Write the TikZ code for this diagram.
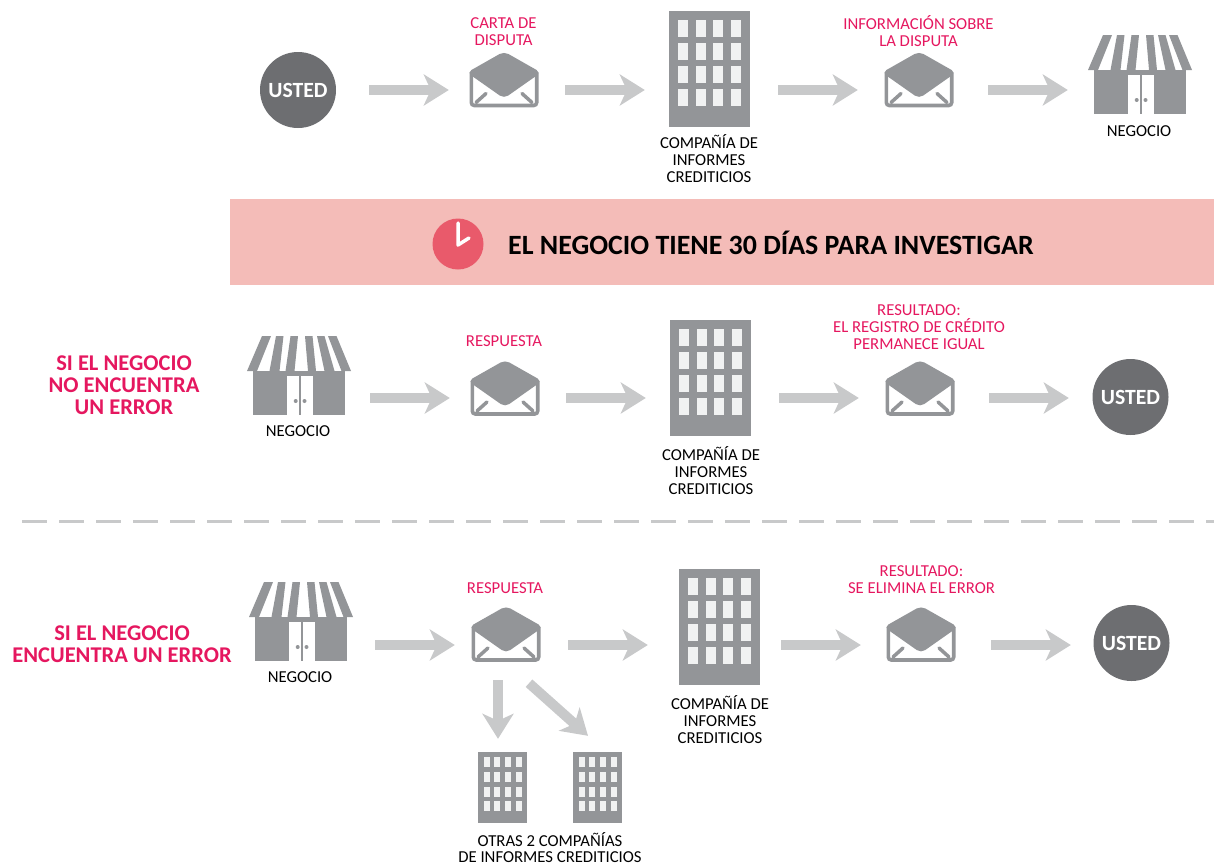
\documentclass[tikz,border=0pt]{standalone}
\usepackage{fontspec}
\setmainfont{Carlito}
\usetikzlibrary{arrows.meta}
\definecolor{pinktx}{HTML}{E5175F}
\definecolor{iconGray}{HTML}{939598}
\definecolor{darkGray}{HTML}{6D6E71}
\definecolor{arrowGray}{HTML}{C8C9CA}
\definecolor{bandPink}{HTML}{F4BCB8}
\definecolor{clockRed}{HTML}{E95A6B}
\definecolor{winWhite}{HTML}{F1F2F2}
\newcommand{\ustedtext}{\raisebox{-7.9pt}[0pt][0pt]{USTED}}
\tikzset{
  x=1pt,y=-1pt,
  fat/.style={draw=arrowGray,line width=10pt,-{Stealth[length=25pt,width=31pt,inset=7pt]}},
  usted/.style={circle,fill=darkGray,minimum size=76pt,inner sep=0pt,text=white,font=\fontsize{21.7}{24}\selectfont\bfseries},
  pinklab/.style={text=pinktx,align=center,font=\fontsize{16.7}{17}\selectfont,inner sep=0pt},
  blacklab/.style={text=black,align=center,font=\fontsize{16.7}{17}\selectfont,inner sep=0pt},
  headlab/.style={text=pinktx,align=center,font=\fontsize{22.5}{22}\selectfont\bfseries,inner sep=0pt},
  envbox/.style={minimum width=69pt,minimum height=54pt,inner sep=0pt},
  bldbox/.style={minimum width=81pt,minimum height=116pt,inner sep=0pt,fill=iconGray},
  smallbox/.style={minimum width=49pt,minimum height=71pt,inner sep=0pt,fill=iconGray},
  shopbox/.style={minimum width=104pt,minimum height=79pt,inner sep=0pt},
  envelope/.pic={
    \draw[iconGray,line width=3.6pt,rounded corners=3pt] (-32.7,-8) -- (-32.7,25) -- (32.7,25) -- (32.7,-8);
    \fill[iconGray,rounded corners=5pt] (0,-29) -- (-37,-8) -- (0,18) -- (37,-8) -- cycle;
    \draw[iconGray,line width=3.5pt,line cap=round] (-28,22) -- (-18,13) (28,22) -- (18,13);
  },
  windows/.pic={
    \foreach \r in {-49,-26,-3,20}\foreach \c in {-31.5,-13.5,3.5,21.5}
      \fill[winWhite] (\c,\r) rectangle ++(10,17);
  },
  smallwindows/.pic={
    \foreach \r in {-30.5,-15.5,-1,13}\foreach \c in {-18.5,-8.5,2.5,13.5}
      \fill[winWhite] (\c,\r) rectangle ++(6.3,10);
  },
  shop/.pic={
    \fill[iconGray] (-46,-4.5) rectangle (46,39.5);
    \fill[iconGray] (-37,-39.5) -- (-28,-39.5) -- (-42,-4.5) -- (-52,-4.5) -- cycle;
    \fill[iconGray] (-23,-39.5) -- (-15.5,-39.5) -- (-19.5,-4.5) -- (-29.5,-4.5) -- cycle;
    \fill[iconGray] (-8.5,-39.5) -- (-1,-39.5) -- (-4.5,-4.5) -- (-13.5,-4.5) -- cycle;
    \fill[iconGray] (6,-39.5) -- (13.5,-39.5) -- (17,-4.5) -- (9,-4.5) -- cycle;
    \fill[iconGray] (18,-39.5) -- (25.5,-39.5) -- (35.5,-4.5) -- (25.5,-4.5) -- cycle;
    \fill[iconGray] (29,-39.5) -- (37.5,-39.5) -- (52,-4.5) -- (42.5,-4.5) -- cycle;
    \fill[white] (-12,0.5) rectangle (14,39.5);
    \draw[iconGray,line width=1.5pt] (1,0.5) -- (1,39.5);
    \fill[iconGray] (-3.3,25.5) circle (2) (5.5,25.5) circle (2);
  },
}
\begin{document}
\begin{tikzpicture}
\useasboundingbox (0,0) rectangle (1214,865);
% row levels of the arrows
\coordinate (r1) at (0,90);
\coordinate (r2) at (0,398);
\coordinate (r3) at (0,645);
% band
\fill[bandPink] (230,199) rectangle (1214,285);
\node[circle,fill=clockRed,minimum size=51pt,inner sep=0pt] (clock) at (458,244) {};
\draw[white,line width=3.5pt,line cap=round,line join=round] (458,223) -- (458,245) -- (469,238);
\node[anchor=west,inner sep=0pt,font=\fontsize{27.9}{30}\selectfont\bfseries] (bandtext) at (508,243) {EL NEGOCIO TIENE 30 DÍAS PARA INVESTIGAR};
% dashed divider
\coordinate (divA) at (22,521);
\coordinate (divB) at (1214,521);
\draw[draw=arrowGray,line width=3pt,dash pattern=on 25pt off 12pt] (divA) -- (divB);
% row 1
\node[usted] (u1) at (298,90) {\ustedtext};
\node[envbox] (e1) at (504,80.5) {}; \pic at (e1) {envelope};
\node[bldbox] (b1) at (709.5,69) {}; \pic at (b1) {windows};
\node[envbox] (e2) at (919,80.5) {}; \pic at (e2) {envelope};
\node[shopbox] (s1) at (1140,74.5) {}; \pic at (s1) {shop};
\node[pinklab] (l1) at (503.5,32) {CARTA DE\\DISPUTA};
\node[pinklab] (l2) at (918.5,31) {INFORMACIÓN SOBRE\\LA DISPUTA};
\node[blacklab] (l3) at (709,158.5) {COMPAÑÍA DE\\INFORMES\\CREDITICIOS};
\node[blacklab] (l4) at (1139,131) {NEGOCIO};
\draw[fat] ([xshift=33pt]u1.east |- r1) -- ([xshift=-20.5pt]e1.west |- r1);
\draw[fat] ([xshift=26.5pt]e1.east |- r1) -- ([xshift=-24pt]b1.west |- r1);
\draw[fat] ([xshift=28pt]b1.east |- r1) -- ([xshift=-26.5pt]e2.west |- r1);
\draw[fat] ([xshift=34.5pt]e2.east |- r1) -- ([xshift=-20pt]s1.west |- r1);
% row 2
\node[shopbox] (s2) at (299,375.5) {}; \pic at (s2) {shop};
\node[envbox] (e3) at (505,389) {}; \pic at (e3) {envelope};
\node[bldbox] (b2) at (710.5,378) {}; \pic at (b2) {windows};
\node[envbox] (e4) at (920,389) {}; \pic at (e4) {envelope};
\node[usted] (u2) at (1130.5,397) {\ustedtext};
\node[headlab] (h1) at (124,385) {SI EL NEGOCIO\\NO ENCUENTRA\\UN ERROR};
\node[blacklab] (l5) at (298,431) {NEGOCIO};
\node[pinklab] (l6) at (504,341) {RESPUESTA};
\node[pinklab] (l7) at (919,327) {RESULTADO:\\EL REGISTRO DE CRÉDITO\\PERMANECE IGUAL};
\node[blacklab] (l8) at (711,471) {COMPAÑÍA DE\\INFORMES\\CREDITICIOS};
\draw[fat] ([xshift=19pt]s2.east |- r2) -- ([xshift=-20.5pt]e3.west |- r2);
\draw[fat] ([xshift=26.5pt]e3.east |- r2) -- ([xshift=-24pt]b2.west |- r2);
\draw[fat] ([xshift=28pt]b2.east |- r2) -- ([xshift=-26.5pt]e4.west |- r2);
\draw[fat] ([xshift=34.5pt]e4.east |- r2) -- ([xshift=-23.5pt]u2.west |- r2);
% row 3
\node[shopbox] (s3) at (301,621.5) {}; \pic at (s3) {shop};
\node[envbox] (e5) at (506,635) {}; \pic at (e5) {envelope};
\node[bldbox] (b3) at (719.5,627) {}; \pic at (b3) {windows};
\node[envbox] (e6) at (921,635) {}; \pic at (e6) {envelope};
\node[usted] (u3) at (1131.5,643) {\ustedtext};
\node[smallbox] (o1) at (502.5,787.5) {}; \pic at (o1) {smallwindows};
\node[smallbox] (o2) at (597.5,787.5) {}; \pic at (o2) {smallwindows};
\node[headlab] (h2) at (122,644) {SI EL NEGOCIO\\ENCUENTRA UN ERROR};
\node[blacklab] (l9) at (300,677) {NEGOCIO};
\node[pinklab] (l10) at (505,588) {RESPUESTA};
\node[pinklab] (l11) at (921.5,580) {RESULTADO:\\SE ELIMINA EL ERROR};
\node[blacklab] (l12) at (720,720) {COMPAÑÍA DE\\INFORMES\\CREDITICIOS};
\node[blacklab,font=\fontsize{16.7}{15.5}\selectfont] (l13) at (550,847.5) {OTRAS 2 COMPAÑÍAS\\DE INFORMES CREDITICIOS};
\draw[fat] ([xshift=22pt]s3.east |- r3) -- ([xshift=-16.5pt]e5.west |- r3);
\draw[fat] ([xshift=27.5pt]e5.east |- r3) -- ([xshift=-31pt]b3.west |- r3);
\draw[fat] ([xshift=21pt]b3.east |- r3) -- ([xshift=-25.5pt]e6.west |- r3);
\draw[fat] ([xshift=35.5pt]e6.east |- r3) -- ([xshift=-22.5pt]u3.west |- r3);
\draw[fat] ([xshift=-8pt,yshift=-18pt]e5.south) -- ([xshift=-4.5pt,yshift=13pt]o1.north);
\draw[fat] ([xshift=23pt,yshift=-21pt]e5.south) -- ([xshift=-9.5pt,yshift=16pt]o2.north);
\end{tikzpicture}
\end{document}
